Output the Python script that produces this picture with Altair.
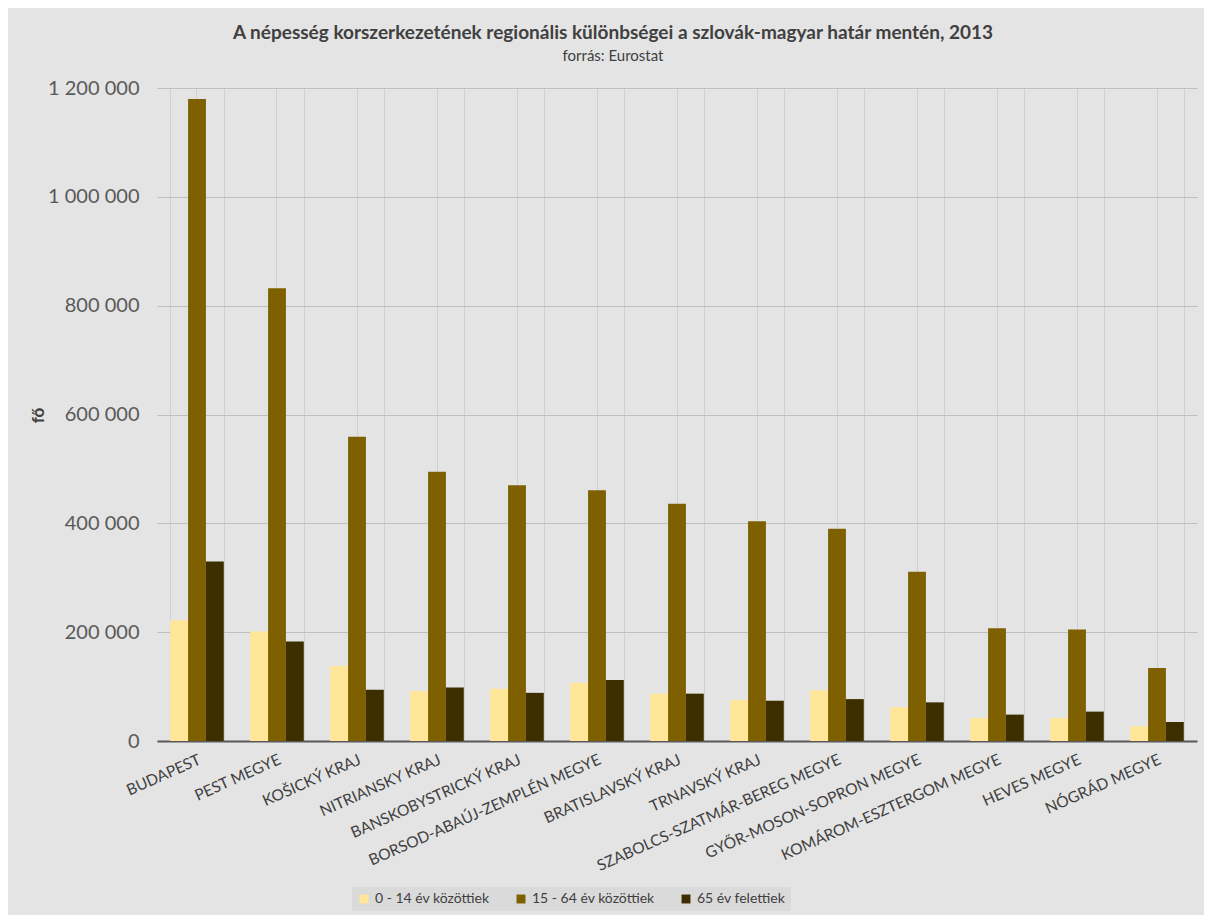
import altair as alt
import pandas as pd

categories = [
    "BUDAPEST", "PEST MEGYE", "KOŠICKÝ KRAJ", "NITRIANSKY KRAJ",
    "BANSKOBYSTRICKÝ KRAJ", "BORSOD-ABAÚJ-ZEMPLÉN MEGYE", "BRATISLAVSKÝ KRAJ",
    "TRNAVSKÝ KRAJ", "SZABOLCS-SZATMÁR-BEREG MEGYE", "GYŐR-MOSON-SOPRON MEGYE",
    "KOMÁROM-ESZTERGOM MEGYE", "HEVES MEGYE", "NÓGRÁD MEGYE",
]
age_0_14 = [222000, 201000, 138000, 92000, 96000, 107000, 87000, 75500, 93000, 62000, 42000, 42000, 27000]
age_15_64 = [1180000, 832000, 559000, 495000, 470000, 461000, 436000, 404000, 390000, 311000, 207000, 205000, 134000]
age_65 = [330000, 183000, 94000, 98500, 88500, 112000, 87000, 74000, 77000, 71000, 48500, 54000, 35000]
series = ["0 - 14 év közöttiek", "15 - 64 év közöttiek", "65 év felettiek"]
colors = ["#FFE699", "#7F6000", "#3D2E00"]
y_ticks = [0, 200000, 400000, 600000, 800000, 1000000, 1200000]

rows = []
for vals, s in zip([age_0_14, age_15_64, age_65], series):
    for c, v in zip(categories, vals):
        rows.append({"region": c, "series": s, "value": v})
df = pd.DataFrame(rows)

FONT = "Lato"
xscale = alt.Scale(domain=categories, paddingInner=0.33, paddingOuter=0.165)

bars = alt.Chart(df).mark_bar().encode(
    x=alt.X("region:N", sort=categories, scale=xscale,
            axis=alt.Axis(title=None, orient="bottom", labelAngle=336, labelAlign="right",
                          labelBaseline="top", labelFontSize=15.5, labelColor="#404040",
                          labelPadding=11, labelLimit=0, labelOverlap=False,
                          ticks=False, domainColor="#595959", domainWidth=2,
                          grid=True, gridColor="#cfcfcf", labelFont=FONT)),
    xOffset=alt.XOffset("series:N", sort=series),
    y=alt.Y("value:Q", scale=alt.Scale(domain=[0, 1200000], nice=False),
            axis=alt.Axis(title="fő", values=y_ticks, domain=False, ticks=False,
                          labelExpr="replace(format(datum.value, ','), /,/g, ' ')",
                          labelFontSize=20, labelColor="#595959", labelPadding=18,
                          gridColor="#bfbfbf", titleFontSize=17, titleColor="#404040",
                          titleFontWeight="bold", titleX=-110, titleY=327, titleAngle=270,
                          labelFont=FONT, titleFont=FONT)),
    color=alt.Color("series:N", sort=series,
                    scale=alt.Scale(domain=series, range=colors),
                    legend=alt.Legend(title=None, orient="none", direction="horizontal",
                                      legendX=195, legendY=799, fillColor="#dadada",
                                      padding=5, symbolType="square", symbolSize=80,
                                      symbolStrokeWidth=0, labelFontSize=14,
                                      labelColor="#404040", columnPadding=24,
                                      labelFont=FONT)),
)

grid2 = alt.Chart(df).mark_bar(opacity=0).encode(
    x=alt.X("region:N", sort=categories, scale=xscale,
            axis=alt.Axis(title=None, orient="bottom", labels=False, ticks=False,
                          domain=False, grid=True, tickBand="extent", gridColor="#cfcfcf")),
)

chart = alt.layer(grid2, bars).resolve_axis(x="independent").properties(
    width=1040,
    height=653,
    autosize=alt.AutoSizeParams(type="none"),
    padding={"left": 149, "top": 80, "right": 7, "bottom": 174},
    background="#e4e4e4",
    title=alt.Title(
        "A népesség korszerkezetének regionális különbségei a szlovák-magyar határ mentén, 2013",
        subtitle="forrás: Eurostat",
        fontSize=19, fontWeight="bold", color="#404040", font=FONT,
        subtitleFontSize=15, subtitleColor="#404040", subtitleFont=FONT,
        subtitlePadding=6, anchor="middle", dx=-64, offset=14,
    ),
).configure_view(stroke=None)

chart.save("out.html", embed_options={"renderer": "svg", "actions": False})
